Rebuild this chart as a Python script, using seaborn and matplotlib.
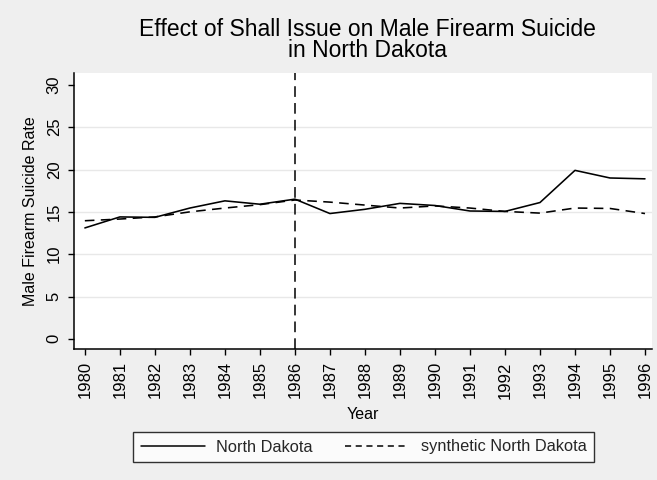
import matplotlib
matplotlib.use("Agg")
import matplotlib.pyplot as plt
from matplotlib.lines import Line2D
import numpy as np
import pandas as pd
import seaborn as sns

# Male firearm suicide rate, North Dakota vs. its synthetic control
years = list(range(1980, 1997))
north_dakota = [13.1, 14.4, 14.35, 15.45, 16.3, 15.9, 16.5, 14.8, 15.3, 16.0,
                15.75, 15.1, 15.05, 16.1, 19.9, 19.0, 18.9]
synthetic_nd = [13.95, 14.15, 14.4, 15.0, 15.45, 15.85, 16.4, 16.15, 15.8, 15.45,
                15.7, 15.45, 15.05, 14.85, 15.45, 15.4, 14.8]
series_names = ["North Dakota", "synthetic North Dakota"]
treatment_year = 1986
y_ticks = [0, 5, 10, 15, 20, 25, 30]

df = pd.DataFrame({
    "Year": years * 2,
    "rate": north_dakota + synthetic_nd,
    "series": [series_names[0]] * len(years) + [series_names[1]] * len(years),
})

sns.set_theme(style="white")
plt.rcParams["font.family"] = ["Liberation Sans", "DejaVu Sans"]

bg = "#efefef"
fig = plt.figure(figsize=(6.57, 4.80), dpi=100, facecolor=bg)
ax = fig.add_axes([74 / 657, 1 - 349 / 480, (652 - 74) / 657, (349 - 73) / 480])
ax.set_facecolor("white")

sns.lineplot(data=df, x="Year", y="rate", style="series",
             dashes={series_names[0]: "", series_names[1]: (6, 4)},
             color="black", linewidth=1.15, legend=False, ax=ax)

ax.axvline(treatment_year, color="black", linewidth=1.1, dashes=(7, 4))

ax.set_xlim(1979.69, 1996.2)
ax.set_ylim(-1.2, 31.4)
ax.set_xticks(years)
ax.set_xticklabels([str(y) for y in years], rotation=90)
ax.set_yticks(y_ticks)
ax.set_yticklabels([str(v) for v in y_ticks], rotation=90, va="center")

for v in y_ticks[1:-1]:
    ax.axhline(v, color="#e8e8e8", linewidth=1.0, zorder=0)

for side in ("top", "right"):
    ax.spines[side].set_visible(False)
for side in ("left", "bottom"):
    ax.spines[side].set_color("black")
    ax.spines[side].set_linewidth(1.1)

ax.tick_params(axis="both", which="major", direction="out", length=4.3, width=1.0,
               color="black", labelsize=12, labelcolor="black", pad=4.5,
               left=True, bottom=True)

ax.set_xlabel("Year", fontsize=11.5, color="black", labelpad=6)
ax.set_ylabel("Male Firearm Suicide Rate", fontsize=11.5, color="black", labelpad=6)

fig.text(367 / 657, 1 - 40 / 480,
         "Effect of Shall Issue on Male Firearm Suicide\nin North Dakota",
         ha="center", va="center", fontsize=16.5, color="black", linespacing=0.88)

handles = [
    Line2D([], [], color="black", linewidth=1.1),
    Line2D([], [], color="black", linewidth=1.1, dashes=(4, 3)),
]
leg = fig.legend(handles, series_names, loc="center",
                 bbox_to_anchor=(363.5 / 657, 1 - 447 / 480), ncol=2,
                 frameon=True, fancybox=False, fontsize=11.8,
                 handlelength=3.9, handletextpad=0.7, columnspacing=2.0,
                 borderpad=0.45, borderaxespad=0)
leg.get_frame().set_facecolor("white")
leg.get_frame().set_edgecolor("black")
leg.get_frame().set_linewidth(1.0)

fig.savefig("out.png", dpi=100, facecolor=bg)
